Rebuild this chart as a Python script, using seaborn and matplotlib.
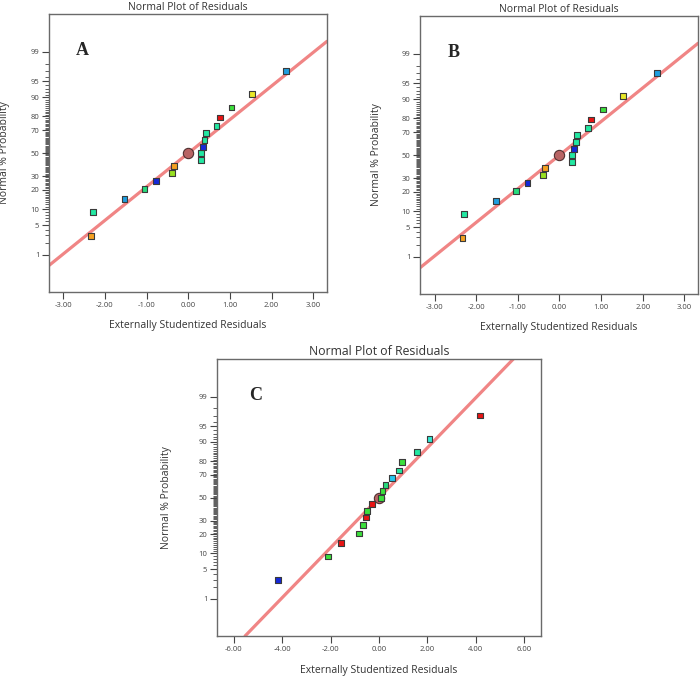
import pandas as pd
import seaborn as sns
import matplotlib.pyplot as plt
from statistics import NormalDist

# Residuals (A and B show the same run)
resid_ab = [-2.33, -2.29, -1.53, -1.05, -0.77, -0.39, -0.34, 0.30, 0.30,
            0.35, 0.39, 0.42, 0.68, 0.76, 1.04, 1.53, 2.34]
level_ab = ['orange', 'teal', 'cyan', 'mint', 'blue', 'lime', 'orange', 'teal', 'teal',
            'blue', 'teal', 'teal', 'teal', 'red', 'green', 'yellow', 'cyan']

resid_c = [-4.16, -2.10, -1.57, -0.84, -0.65, -0.54, -0.51, -0.28, 0.07,
           0.15, 0.27, 0.54, 0.84, 0.96, 1.57, 2.09, 4.16]
level_c = ['blue', 'green', 'red', 'green', 'green', 'red', 'green', 'red', 'green',
           'green', 'mint', 'sky', 'teal', 'green', 'teal', 'aqua', 'red']

# fitted reference line: slope in normal-score units per residual unit
line_slope_ab = 0.77
line_slope_c = 0.575
pivot_resid = 0.0
pivot_pct = 50

prob_ticks = [1, 5, 10, 20, 30, 50, 70, 80, 90, 95, 99]

palette = {
    'orange': '#F5A020', 'teal': '#22E8A2', 'cyan': '#1E9EE0', 'mint': '#26DC7C',
    'blue': '#1428D8', 'lime': '#98E020', 'red': '#E81414', 'green': '#3CE03C',
    'yellow': '#E8E828', 'sky': '#22C8F0', 'aqua': '#30E8D2',
}

nd = NormalDist()


def normal_plot(ax, resid, levels, slope, xlim, xticks, letter):
    n = len(resid)
    df = pd.DataFrame({'resid': resid, 'level': levels})
    df = df.sort_values('resid', kind='stable').reset_index(drop=True)
    df['z'] = [nd.inv_cdf((i + 0.5) / n) for i in range(n)]

    z0 = nd.inv_cdf(pivot_pct / 100)
    ax.axline((pivot_resid, z0), slope=slope, color='#F08585', lw=2.3, zorder=1)
    ax.scatter([pivot_resid], [z0], s=55, color='#B86464', edgecolor='#503030',
               linewidth=0.8, zorder=2)
    sns.scatterplot(data=df, x='resid', y='z', hue='level', palette=palette,
                    marker='s', s=17, edgecolor='#3A3A3A', linewidth=0.8,
                    legend=False, ax=ax, zorder=3)

    ax.set_xlim(xlim)
    ax.set_ylim(-3.18, 3.19)
    ax.set_xticks(xticks)
    ax.set_xticklabels([f'{t:.2f}' for t in xticks])
    ax.set_yticks([nd.inv_cdf(p / 100) for p in prob_ticks])
    ax.set_yticklabels([str(p) for p in prob_ticks])
    ax.set_yticks([nd.inv_cdf(p / 100) for p in range(1, 100) if p not in prob_ticks],
                  minor=True)
    ax.tick_params(axis='both', which='major', labelsize=5.5, labelcolor='#444444',
                   color='#444444', length=5, width=0.8, pad=2,
                   bottom=True, left=True, direction='out')
    ax.tick_params(axis='y', which='minor', color='#444444', length=3, width=0.6,
                   left=True, direction='out')
    for s in ax.spines.values():
        s.set_color('#6A6A6A')
        s.set_linewidth(1.0)

    ax.set_xlabel('Externally Studentized Residuals', fontsize=7.5, color='#333333')
    ax.set_ylabel('Normal % Probability', fontsize=7.5, color='#333333')
    ax.text(0.12, 0.87, letter, transform=ax.transAxes, fontsize=13,
            fontweight='bold', family='Liberation Serif', ha='center', va='center')


sns.set_style('ticks')
plt.rcParams['font.family'] = ['Open Sans', 'DejaVu Sans']

W, H = 700, 677
fig = plt.figure(figsize=(7, 6.77), dpi=100)


def px_axes(left, top, right, bottom):
    return fig.add_axes([left / W, 1 - bottom / H, (right - left) / W, (bottom - top) / H])


ax_a = px_axes(49, 14, 327, 292)
ax_b = px_axes(420, 16, 698, 294)
ax_c = px_axes(217, 359, 541, 636)

normal_plot(ax_a, resid_ab, level_ab, line_slope_ab, (-3.34, 3.33),
            [-3, -2, -1, 0, 1, 2, 3], 'A')
normal_plot(ax_b, resid_ab, level_ab, line_slope_ab, (-3.35, 3.33),
            [-3, -2, -1, 0, 1, 2, 3], 'B')
normal_plot(ax_c, resid_c, level_c, line_slope_c, (-6.69, 6.69),
            [-6, -4, -2, 0, 2, 4, 6], 'C')

for ax, fs in [(ax_a, 7.5), (ax_b, 7.5), (ax_c, 8.8)]:
    ax.set_title('Normal Plot of Residuals', fontsize=fs, color='#333333', pad=3)

ax_a.yaxis.set_label_coords(-0.14, 0.5)
ax_b.yaxis.set_label_coords(-0.135, 0.5)
ax_c.yaxis.set_label_coords(-0.14, 0.5)
ax_a.xaxis.set_label_coords(0.5, -0.10)
ax_b.xaxis.set_label_coords(0.5, -0.10)
ax_c.xaxis.set_label_coords(0.5, -0.105)

fig.savefig('out.png', dpi=100)
